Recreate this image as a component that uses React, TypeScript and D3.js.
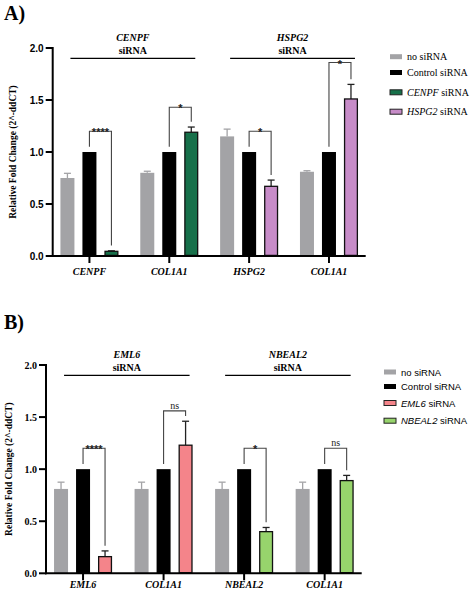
import React from "react";
import * as d3 from "d3";

// ---------- Data ----------
const categoriesA = ["CENPF", "COL1A1", "HSPG2", "COL1A1"];
const noSiA = [0.75, 0.8, 1.15, 0.81];
const noSiErrA = [0.045, 0.015, 0.07, 0.01];
const controlA = [1, 1, 1, 1];
const knockA = [0.045, 1.19, 0.67, 1.51];
const knockErrA = [0.005, 0.05, 0.06, 0.14];
const knockSeriesA = [0, 0, 1, 1]; // index into siRNA series
const bracketA = [1.2, 1.43, 1.2, 1.86];
const sigA = ["****", "*", "*", "*"];
const siRNAA = ["CENPF", "HSPG2"];

const categoriesB = ["EML6", "COL1A1", "NBEAL2", "COL1A1"];
const noSiB = [0.81, 0.81, 0.81, 0.81];
const noSiErrB = [0.065, 0.065, 0.065, 0.065];
const controlB = [1, 1, 1, 1];
const knockB = [0.16, 1.23, 0.4, 0.89];
const knockErrB = [0.055, 0.23, 0.04, 0.05];
const knockSeriesB = [0, 0, 1, 1];
const bracketB = [1.2, 1.56, 1.2, 1.2];
const sigB = ["****", "ns", "*", "ns"];
const siRNAB = ["EML6", "NBEAL2"];

const yTicks = [0, 0.5, 1.0, 1.5, 2.0];

const GRAY = "#a3a3a6";
const SERIF = "'Liberation Serif', 'Times New Roman', Tinos, 'DejaVu Serif', serif";
const SANS = "'Liberation Sans', Arial, Arimo, 'DejaVu Sans', sans-serif";

type PanelProps = {
  letter: string;
  top: number;
  bottom: number;
  left: number;
  right: number;
  letterY: number;
  categories: string[];
  noSi: number[];
  noSiErr: number[];
  control: number[];
  knock: number[];
  knockErr: number[];
  knockSeries: number[];
  brackets: number[];
  sig: string[];
  siRNA: string[];
  colors: string[];
  tickFont: string;
  legendFont: string;
  legendX: number;
  legendRows: number[];
  legendSize: number;
  labelX: number;
  xLabelOffset: number;
};

function Panel(p: PanelProps) {
  const y = d3.scaleLinear().domain([0, 2]).range([p.bottom, p.top]);
  const x = d3
    .scalePoint<number>()
    .domain(p.categories.map((_, i) => i))
    .range([p.left, p.right])
    .padding(0.46);
  const bw = 14;
  const off = 22;
  const capW = 3.5;
  const cx = (i: number) => x(i) as number;

  const bars: React.ReactNode[] = [];
  p.categories.forEach((_, i) => {
    const c = cx(i);
    bars.push(
      <g key={"n" + i}>
        <line x1={c - off} x2={c - off} y1={y(p.noSi[i])} y2={y(p.noSi[i] + p.noSiErr[i])} stroke={GRAY} strokeWidth={1.3} />
        <line x1={c - off - capW} x2={c - off + capW} y1={y(p.noSi[i] + p.noSiErr[i])} y2={y(p.noSi[i] + p.noSiErr[i])} stroke={GRAY} strokeWidth={1.3} />
        <rect x={c - off - bw / 2} y={y(p.noSi[i])} width={bw} height={y(0) - y(p.noSi[i])} fill={GRAY} />
      </g>
    );
    bars.push(
      <rect key={"c" + i} x={c - bw / 2} y={y(p.control[i])} width={bw} height={y(0) - y(p.control[i])} fill="#000" />
    );
    const kv = p.knock[i];
    const ke = kv + p.knockErr[i];
    bars.push(
      <g key={"k" + i}>
        <line x1={c + off} x2={c + off} y1={y(kv)} y2={y(ke)} stroke="#222" strokeWidth={1.3} />
        <line x1={c + off - capW} x2={c + off + capW} y1={y(ke)} y2={y(ke)} stroke="#222" strokeWidth={1.3} />
        <rect x={c + off - bw / 2 + 0.6} y={y(kv)} width={bw - 1.2} height={y(0) - y(kv) - 0.6} fill={p.colors[p.knockSeries[i]]} stroke="#111" strokeWidth={1.3} />
      </g>
    );
    const by = y(p.brackets[i]);
    const leftEnd = y(p.control[i] + 0.05);
    const rightEnd = y(ke + 0.05);
    const isNs = p.sig[i] === "ns";
    bars.push(
      <g key={"b" + i}>
        <path d={`M${c},${leftEnd}V${by}H${c + off}V${rightEnd}`} fill="none" stroke="#444" strokeWidth={1.1} />
        <text
          x={c + off / 2}
          y={isNs ? by - 2 : by + 5}
          textAnchor="middle"
          fontFamily={isNs ? SERIF : SANS}
          fontWeight={isNs ? "normal" : "bold"}
          fontSize={isNs ? 10 : 11}
          fill="#222"
        >
          {p.sig[i]}
        </text>
      </g>
    );
  });

  const headers = [0, 1].map((g) => {
    const a = cx(g * 2) - 19;
    const b = cx(g * 2 + 1) + 26;
    const mid = (a + b) / 2;
    const ly = y(1.9);
    return (
      <g key={"h" + g}>
        <line x1={a} x2={b} y1={ly} y2={ly} stroke="#000" strokeWidth={1.1} />
        <text x={mid} y={ly - 17} textAnchor="middle" fontFamily={SERIF} fontWeight="bold" fontStyle="italic" fontSize={10}>
          {p.siRNA[g]}
        </text>
        <text x={mid} y={ly - 4} textAnchor="middle" fontFamily={SERIF} fontWeight="bold" fontSize={10}>
          siRNA
        </text>
      </g>
    );
  });

  const legendItems = [
    { label: "no siRNA", italic: "", fill: GRAY, stroke: "none" },
    { label: "Control siRNA", italic: "", fill: "#000", stroke: "none" },
    { label: " siRNA", italic: p.siRNA[0], fill: p.colors[0], stroke: "#222" },
    { label: " siRNA", italic: p.siRNA[1], fill: p.colors[1], stroke: "#222" },
  ];

  return (
    <g>
      <text x={4} y={p.letterY} fontFamily={SERIF} fontWeight="bold" fontSize={20}>
        {p.letter}
      </text>
      <text
        transform={`translate(${p.labelX},${(p.top + p.bottom) / 2}) rotate(-90)`}
        textAnchor="middle"
        fontFamily={SERIF}
        fontWeight="bold"
        fontSize={9.5}
      >
        Relative Fold Change (2^-ddCT)
      </text>
      {bars}
      {headers}
      <line x1={p.left} x2={p.left} y1={p.top - 1} y2={p.bottom + 1} stroke="#000" strokeWidth={2} />
      <line x1={p.left - 1} x2={p.right} y1={p.bottom} y2={p.bottom} stroke="#000" strokeWidth={2} />
      {yTicks.map((t) => (
        <g key={"t" + t}>
          <line x1={p.left - 7} x2={p.left} y1={y(t)} y2={y(t)} stroke="#000" strokeWidth={2} />
          <text x={p.left - 9} y={y(t) + 3.5} textAnchor="end" fontFamily={p.tickFont} fontWeight="bold" fontSize={10}>
            {t.toFixed(1)}
          </text>
        </g>
      ))}
      {p.categories.map((c, i) => (
        <g key={"xc" + i}>
          <line x1={cx(i)} x2={cx(i)} y1={p.bottom} y2={p.bottom + 7} stroke="#000" strokeWidth={2} />
          <text x={cx(i)} y={p.bottom + p.xLabelOffset} textAnchor="middle" fontFamily={SERIF} fontWeight="bold" fontStyle="italic" fontSize={10}>
            {c}
          </text>
        </g>
      ))}
      {legendItems.map((it, i) => (
        <g key={"l" + i}>
          <rect x={p.legendX} y={p.legendRows[i] - 2.5} width={12} height={5} fill={it.fill} stroke={it.stroke} strokeWidth={1} />
          <text x={p.legendX + 17} y={p.legendRows[i] + 3.5} fontFamily={p.legendFont} fontSize={p.legendSize}>
            {it.italic ? <tspan fontStyle="italic">{it.italic}</tspan> : null}
            {it.label}
          </text>
        </g>
      ))}
    </g>
  );
}

export default function App() {
  return (
    <svg width={475} height={590} style={{ position: "absolute", left: 0, top: 0, background: "#fff" }}>
      <rect width={475} height={590} fill="#fff" />
      <Panel
        letter="A)"
        top={48}
        bottom={256}
        left={52.7}
        right={365.7}
        letterY={20}
        categories={categoriesA}
        noSi={noSiA}
        noSiErr={noSiErrA}
        control={controlA}
        knock={knockA}
        knockErr={knockErrA}
        knockSeries={knockSeriesA}
        brackets={bracketA}
        sig={sigA}
        siRNA={siRNAA}
        colors={["#17704a", "#c78cc8"]}
        tickFont={SANS}
        legendFont={SERIF}
        legendX={390}
        legendRows={[56.7, 72.5, 92.3, 111.7]}
        legendSize={10}
        labelX={15.5}
        xLabelOffset={19}
      />
      <Panel
        letter="B)"
        top={365}
        bottom={573.3}
        left={46}
        right={361.7}
        letterY={329}
        categories={categoriesB}
        noSi={noSiB}
        noSiErr={noSiErrB}
        control={controlB}
        knock={knockB}
        knockErr={knockErrB}
        knockSeries={knockSeriesB}
        brackets={bracketB}
        sig={sigB}
        siRNA={siRNAB}
        colors={["#f4848a", "#97d46c"]}
        tickFont={SERIF}
        legendFont={SANS}
        legendX={384}
        legendRows={[372, 386.5, 403, 420.7]}
        legendSize={9.5}
        labelX={12}
        xLabelOffset={15}
      />
    </svg>
  );
}
